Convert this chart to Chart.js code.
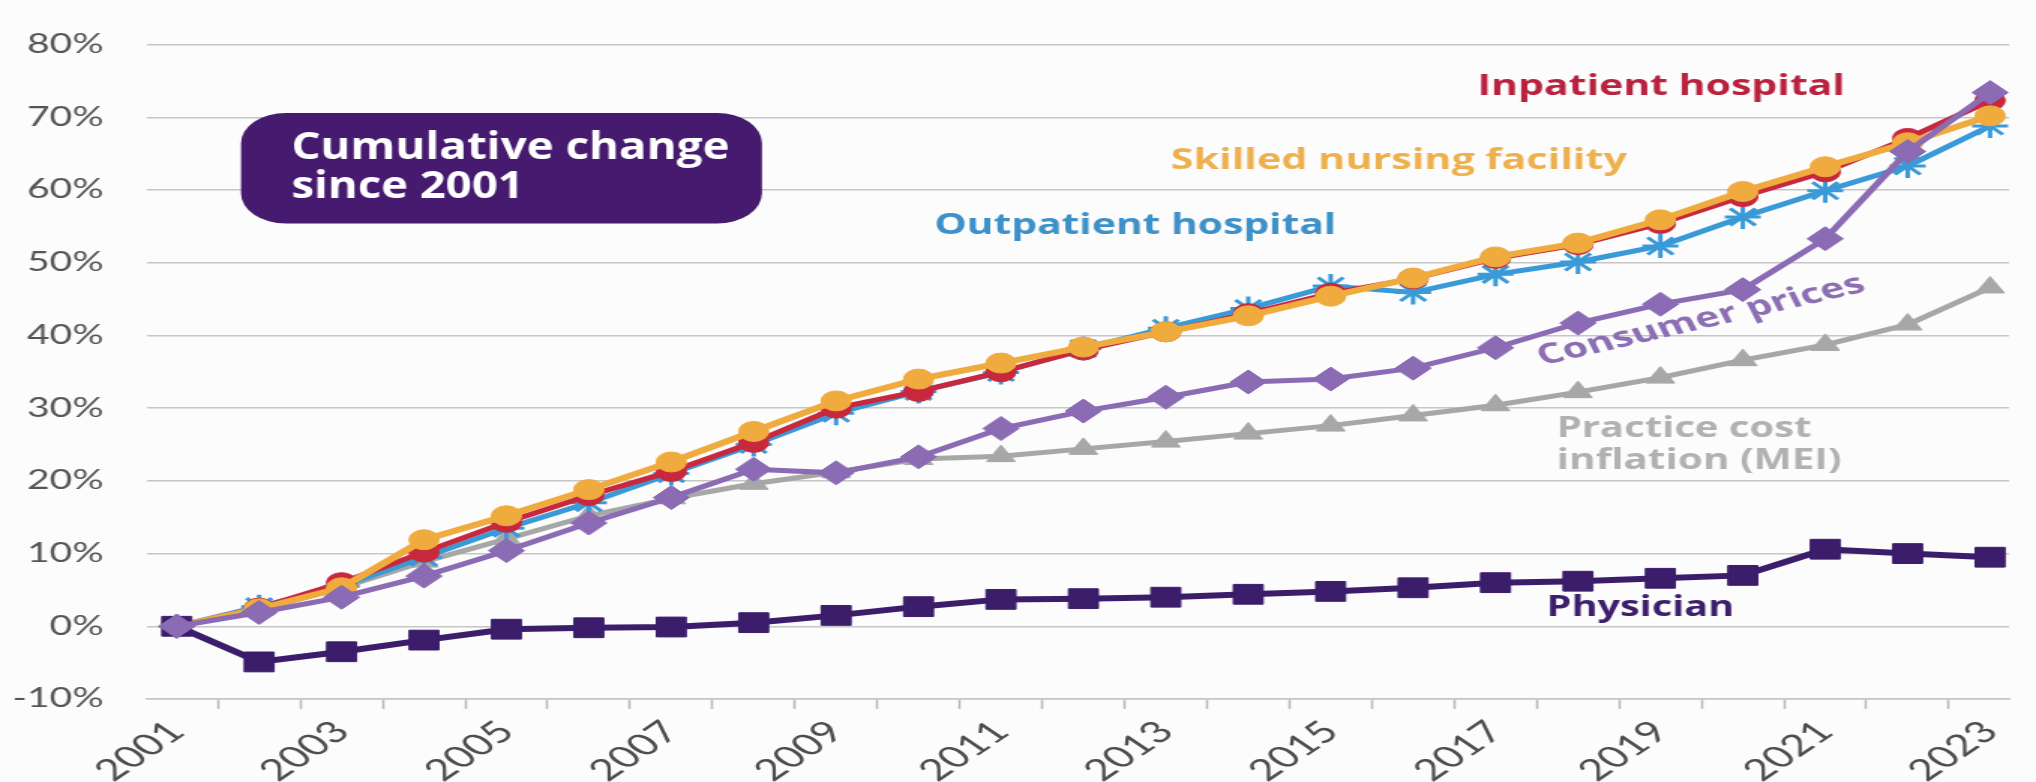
<!DOCTYPE html>
<html>
<head>
<meta charset="utf-8">
<script src="https://cdn.jsdelivr.net/npm/chart.js@4.4.1/dist/chart.umd.min.js"></script>
<style>
  html, body { margin: 0; padding: 0; background: #fcfcfc; overflow: hidden; }
  #chart { display: block; }
</style>
</head>
<body>
<!-- the original graphic is stretched sideways, so the canvas is drawn narrow and widened -->
<canvas id="chart" width="1357" height="782" style="width: 2036px; height: 782px;"></canvas>
<script>
const years = [2001, 2002, 2003, 2004, 2005, 2006, 2007, 2008, 2009, 2010, 2011, 2012,
  2013, 2014, 2015, 2016, 2017, 2018, 2019, 2020, 2021, 2022, 2023];

const inpatientHospital = [0, 2.5, 6.0, 10.2, 14.3, 18.0, 21.3, 25.3, 30.0, 32.3, 35.0, 38.0,
  40.5, 43.0, 45.8, 47.8, 50.6, 52.5, 55.4, 59.1, 62.5, 67.1, 72.3];
const skilledNursing = [0, 2.4, 5.3, 11.9, 15.2, 18.8, 22.6, 26.8, 31.0, 34.0, 36.2, 38.4,
  40.5, 42.7, 45.4, 47.9, 50.8, 52.7, 55.9, 59.8, 63.2, 66.5, 70.2];
const outpatientHospital = [0, 2.7, 5.5, 9.5, 13.5, 17.0, 21.0, 25.0, 29.3, 32.3, 34.9, 38.2,
  41.0, 43.7, 46.8, 45.9, 48.4, 50.1, 52.3, 56.3, 59.9, 63.3, 68.8];
const consumerPrices = [0, 1.9, 4.0, 6.9, 10.4, 14.2, 17.7, 21.6, 21.1, 23.3, 27.2, 29.6,
  31.5, 33.6, 34.0, 35.5, 38.3, 41.7, 44.3, 46.3, 53.3, 65.3, 73.4];
const practiceCostMEI = [0, 2.3, 5.3, 8.9, 12.0, 15.2, 17.6, 19.6, 21.2, 23.0, 23.4, 24.4,
  25.4, 26.5, 27.6, 29.0, 30.4, 32.2, 34.2, 36.6, 38.7, 41.5, 46.6];
const physician = [0, -4.9, -3.5, -1.9, -0.4, -0.2, -0.1, 0.5, 1.5, 2.7, 3.7, 3.8,
  4.0, 4.4, 4.8, 5.3, 6.0, 6.2, 6.6, 7.0, 10.6, 10.0, 9.5];

const yTickValues = [-10, 0, 10, 20, 30, 40, 50, 60, 70, 80];
const xTickYears = [2001, 2003, 2005, 2007, 2009, 2011, 2013, 2015, 2017, 2019, 2021, 2023];

// text labels placed in data coordinates (year, percent)
const seriesNotes = [
  { text: 'Inpatient hospital', color: '#b9223f', x: 2016.78, y: 73.1, w: 245 },
  { text: 'Skilled nursing facility', color: '#edb04e', x: 2013.06, y: 62.9, w: 304 },
  { text: 'Outpatient hospital', color: '#3d91c8', x: 2010.19, y: 54.0, w: 268 },
  { text: 'Practice cost', color: '#b1b1b1', x: 2017.74, y: 26.0, w: 170 },
  { text: 'inflation (MEI)', color: '#b1b1b1', x: 2017.74, y: 21.7, w: 190 },
  { text: 'Physician', color: '#3c1e6c', x: 2017.62, y: 1.4, w: 125 }
];
const rotatedNote = { text: 'Consumer prices', color: '#8c6fb3', x: 2019.54, y: 41.0, w: 229, angle: -19 };
const titleBox = { x0: 2001.78, x1: 2008.10, y0: 70.6, y1: 55.4, color: '#461a6e' };
const titleLines = [
  { text: 'Cumulative change', x: 2002.39, y: 64.2, w: 292 },
  { text: 'since 2001', x: 2002.39, y: 58.9, w: 155 }
];

const toPoints = vals => vals.map((v, i) => ({ x: years[i], y: v }));

function series(label, vals, color, style, radius, width, order) {
  return {
    label,
    data: toPoints(vals),
    borderColor: color,
    backgroundColor: color,
    borderWidth: width,
    pointStyle: style,
    pointRadius: radius,
    pointBackgroundColor: color,
    pointBorderColor: color,
    pointBorderWidth: style === 'star' ? 3 : 1,
    tension: 0,
    clip: false,
    order
  };
}

function fitText(ctx, text, x, y, w, font, color, angle, align) {
  ctx.save();
  ctx.font = font;
  ctx.fillStyle = color;
  ctx.textAlign = align || 'left';
  ctx.textBaseline = 'alphabetic';
  const m = ctx.measureText(text).width;
  ctx.translate(x, y);
  if (angle) ctx.rotate(angle * Math.PI / 180);
  ctx.scale(w / m, 1);
  ctx.fillText(text, 0, 0);
  ctx.restore();
}

const notesPlugin = {
  id: 'notes',
  beforeDatasetsDraw(chart) {
    const { ctx, scales: { x, y } } = chart;
    const l = x.getPixelForValue(titleBox.x0), r = x.getPixelForValue(titleBox.x1);
    const t = y.getPixelForValue(titleBox.y0), b = y.getPixelForValue(titleBox.y1);
    const rad = 30;
    ctx.save();
    ctx.fillStyle = titleBox.color;
    ctx.beginPath();
    ctx.moveTo(l + rad, t);
    ctx.lineTo(r - rad, t);
    ctx.arcTo(r, t, r, t + rad, rad);
    ctx.lineTo(r, b - rad);
    ctx.arcTo(r, b, r - rad, b, rad);
    ctx.lineTo(l + rad, b);
    ctx.arcTo(l, b, l, b - rad, rad);
    ctx.lineTo(l, t + rad);
    ctx.arcTo(l, t, l + rad, t, rad);
    ctx.closePath();
    ctx.fill();
    ctx.restore();
    titleLines.forEach(line => {
      fitText(ctx, line.text, x.getPixelForValue(line.x), y.getPixelForValue(line.y),
        line.w, 'bold 38px "Open Sans"', '#ffffff');
    });
  },
  afterDatasetsDraw(chart) {
    const { ctx, scales: { x, y } } = chart;
    seriesNotes.forEach(n => {
      fitText(ctx, n.text, x.getPixelForValue(n.x), y.getPixelForValue(n.y),
        n.w, 'bold 28px "Open Sans"', n.color);
    });
    const c = rotatedNote;
    fitText(ctx, c.text, x.getPixelForValue(c.x), y.getPixelForValue(c.y),
      c.w, 'bold 28px "Open Sans"', c.color, c.angle, 'center');
  }
};

const gridColor = '#c6c6c6';

new Chart(document.getElementById('chart'), {
  type: 'line',
  data: {
    datasets: [
      series('Consumer prices', consumerPrices, '#8a6bb4', 'rectRot', 12, 5, 1),
      series('Physician', physician, '#3b1d6b', 'rect', 14, 6, 2),
      series('Skilled nursing facility', skilledNursing, '#f0ab3e', 'circle', 10, 6, 3),
      series('Inpatient hospital', inpatientHospital, '#c8283e', 'circle', 10, 5, 4),
      series('Outpatient hospital', outpatientHospital, '#3a9ad8', 'star', 12, 5, 5),
      series('Practice cost inflation (MEI)', practiceCostMEI, '#a7a7a7', 'triangle', 11, 5, 6)
    ]
  },
  options: {
    responsive: false,
    animation: false,
    layout: { padding: { top: 21, right: 8, left: 0, bottom: 0 } },
    plugins: {
      legend: { display: false },
      tooltip: { enabled: false }
    },
    scales: {
      x: {
        type: 'linear',
        min: 2000.64,
        max: 2023.23,
        afterBuildTicks: scale => {
          const ticks = [];
          years.forEach(yr => {
            if (xTickYears.includes(yr)) ticks.push({ value: yr });
            if (yr + 0.5 < scale.max) ticks.push({ value: yr + 0.5 });
          });
          scale.ticks = ticks;
        },
        afterFit: scale => { scale.height = 83; },
        border: { color: gridColor, width: 1.5 },
        grid: {
          drawOnChartArea: false,
          tickLength: 10,
          tickWidth: 1.5,
          tickColor: ctx => (ctx.tick && Number.isInteger(ctx.tick.value)) ? 'rgba(0,0,0,0)' : '#b8b8b8'
        },
        ticks: {
          autoSkip: false,
          minRotation: 45,
          maxRotation: 45,
          padding: 5,
          color: '#4d4d4d',
          font: { family: 'Lato', size: 30 },
          callback: v => Number.isInteger(v) ? String(v) : ''
        }
      },
      y: {
        min: -10,
        max: 80,
        afterBuildTicks: scale => { scale.ticks = yTickValues.map(v => ({ value: v })); },
        afterFit: scale => { scale.width = 98; },
        border: { display: false },
        grid: { color: gridColor, lineWidth: 1.5, drawTicks: false },
        ticks: {
          padding: 29,
          color: '#555555',
          font: { family: 'Lato', size: 26 },
          callback: v => v + '%'
        }
      }
    }
  },
  plugins: [notesPlugin]
});
</script>
</body>
</html>
